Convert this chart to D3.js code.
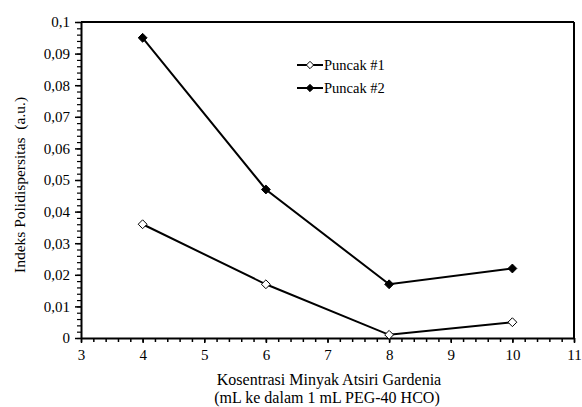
<!DOCTYPE html>
<html>
<head>
<meta charset="utf-8">
<script src="https://cdn.jsdelivr.net/npm/d3@7"></script>
<style>
  body { margin: 0; background: #fff; }
</style>
</head>
<body>
<svg width="582" height="407"></svg>
<script>
const konsentrasi = [4, 6, 8, 10];
const puncak1 = [0.036, 0.017, 0.001, 0.005];
const puncak2 = [0.095, 0.047, 0.017, 0.022];
const seriesNames = ["Puncak #1", "Puncak #2"];
const xTicks = [3, 4, 5, 6, 7, 8, 9, 10, 11];
const yTicks = [0, 0.01, 0.02, 0.03, 0.04, 0.05, 0.06, 0.07, 0.08, 0.09, 0.1];

const FONT = "'Liberation Serif', 'Times New Roman', serif";

const svg = d3.select("svg").style("font-family", FONT),
      margin = {top: 22, right: 8, bottom: 69, left: 81},
      width = +svg.attr("width") - margin.left - margin.right,
      height = +svg.attr("height") - margin.top - margin.bottom;

const g = svg.append("g").attr("transform", `translate(${margin.left},${margin.top})`);

const x = d3.scaleLinear().domain([3, 11]).range([0, width]);
const y = d3.scaleLinear().domain([0, 0.1]).range([height, 0]);

const fmtY = d => d === 0 ? "0" : d3.format(".2~f")(d).replace(".", ",");

// minor ticks
const xMinor = d3.range(3, 11.001, 0.2);
const yMinor = d3.range(0, 0.1001, 0.002);

g.append("g")
  .attr("transform", `translate(0,${height})`)
  .call(d3.axisBottom(x).tickValues(xMinor).tickSize(4).tickFormat(""))
  .call(a => a.select(".domain").remove())
  .selectAll("line").attr("stroke-width", 1.5);

g.append("g")
  .call(d3.axisLeft(y).tickValues(yMinor).tickSize(4).tickFormat(""))
  .call(a => a.select(".domain").remove())
  .selectAll("line").attr("stroke-width", 1.2);

// major axes
const xAxis = g.append("g")
  .attr("transform", `translate(0,${height})`)
  .call(d3.axisBottom(x).tickValues(xTicks).tickSize(5).tickSizeOuter(0).tickPadding(6))
  .attr("font-family", FONT).attr("font-size", 15);
xAxis.selectAll("line").attr("stroke-width", 1.5);
xAxis.select(".domain").attr("stroke-width", 2);

const yAxis = g.append("g")
  .call(d3.axisLeft(y).tickValues(yTicks).tickSize(6).tickSizeOuter(0).tickFormat(fmtY).tickPadding(5))
  .attr("font-family", FONT).attr("font-size", 15);
yAxis.selectAll("line").attr("stroke-width", 1.5);
yAxis.select(".domain").attr("stroke-width", 2);

// frame top/right
g.append("line").attr("x1", 0).attr("x2", width).attr("y1", 0).attr("y2", 0)
  .attr("stroke", "#000").attr("stroke-width", 2);
g.append("line").attr("x1", width).attr("x2", width).attr("y1", 0).attr("y2", height)
  .attr("stroke", "#000").attr("stroke-width", 2);

const series = [
  {name: seriesNames[0], values: puncak1, fill: "#fff"},
  {name: seriesNames[1], values: puncak2, fill: "#000"}
];

const line = d3.line().x(d => x(d[0])).y(d => y(d[1]));
const diamond = d3.symbol().type(d3.symbolDiamond2).size(50);

series.forEach(s => {
  const pts = konsentrasi.map((k, i) => [k, s.values[i]]);
  g.append("path").datum(pts)
    .attr("d", line).attr("fill", "none")
    .attr("stroke", "#000").attr("stroke-width", 2);
  g.selectAll(null).data(pts).join("path")
    .attr("d", diamond)
    .attr("transform", d => `translate(${x(d[0])},${y(d[1])})`)
    .attr("fill", s.fill).attr("stroke", "#000").attr("stroke-width", 1);
});

// legend
const legend = svg.append("g").attr("transform", "translate(297,65)");
series.forEach((s, i) => {
  const lg = legend.append("g").attr("transform", `translate(0,${i * 23})`);
  lg.append("line").attr("x1", 0).attr("x2", 26).attr("stroke", "#000").attr("stroke-width", 2);
  lg.append("path").attr("d", d3.symbol().type(d3.symbolDiamond2).size(34))
    .attr("transform", "translate(13,0)")
    .attr("fill", s.fill).attr("stroke", "#000").attr("stroke-width", 1);
  lg.append("text").attr("x", 27).attr("y", 5).attr("font-size", 14.5).text(s.name);
});

// axis titles
svg.append("text")
  .attr("x", 329).attr("y", 385)
  .attr("text-anchor", "middle").attr("font-size", 16)
  .text("Kosentrasi Minyak Atsiri Gardenia");
svg.append("text")
  .attr("x", 327).attr("y", 403)
  .attr("text-anchor", "middle").attr("font-size", 16)
  .text("(mL ke dalam 1 mL PEG-40 HCO)");

svg.append("text")
  .attr("transform", `translate(25,185) rotate(-90)`)
  .attr("text-anchor", "middle").attr("font-size", 15.5)
  .style("white-space", "pre")
  .text("Indeks Polidispersitas  (a.u.)");
</script>
</body>
</html>
